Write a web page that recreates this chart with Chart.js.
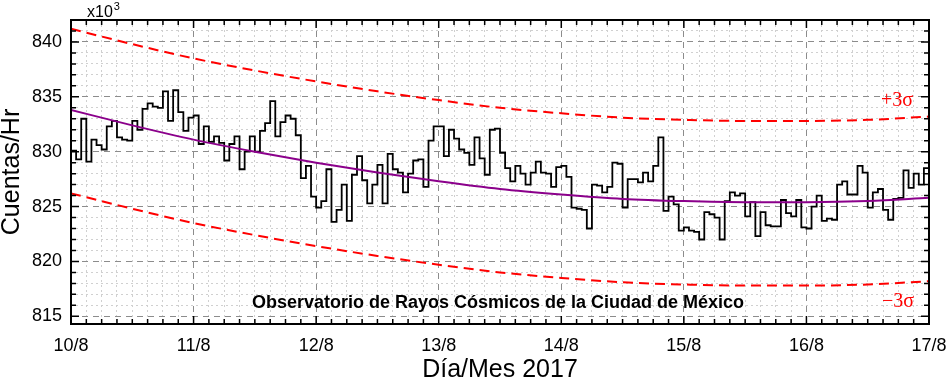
<!DOCTYPE html>
<html>
<head>
<meta charset="utf-8">
<script src="https://cdn.jsdelivr.net/npm/chart.js@4.4.1/dist/chart.umd.min.js"></script>
<style>
  html, body { margin: 0; padding: 0; background: #fff; }
  #wrap { width: 948px; height: 388px; }
</style>
</head>
<body>
<div id="wrap"><canvas id="chart"></canvas></div>
<script>
// day labels on the x axis (one per 24 h)
const dayLabels = ['10/8', '11/8', '12/8', '13/8', '14/8', '15/8', '16/8', '17/8'];

// hourly counts (x10^3), one row per day
const day10 = [830.1, 829.3, 833.0, 829.1, 831.1, 830.6, 830.2, 832.3, 832.8, 831.3, 831.1, 831.0, 832.8, 832.0, 833.9, 834.4, 834.1, 834.0, 835.5, 832.8, 835.6, 833.6, 831.9, 833.1];
const day11 = [833.3, 830.7, 832.3, 830.9, 831.4, 830.8, 829.2, 830.7, 831.4, 828.4, 830.0, 831.4, 830.0, 831.9, 832.6, 834.6, 831.4, 832.7, 833.3, 833.0, 831.5, 827.6, 828.7, 825.9];
const day12 = [824.9, 825.5, 828.4, 823.6, 824.7, 827.0, 823.7, 827.9, 829.6, 827.4, 825.3, 827.0, 828.8, 825.3, 829.8, 828.4, 828.1, 826.3, 828.0, 829.2, 829.3, 826.8, 831.0, 832.3];
const day13 = [832.3, 829.6, 832.0, 831.2, 830.2, 829.9, 828.8, 831.3, 829.4, 827.9, 832.0, 832.1, 829.9, 828.5, 827.3, 828.7, 828.0, 827.0, 828.1, 829.1, 828.1, 828.0, 826.8, 828.6];
const day14 = [828.7, 827.7, 824.9, 824.8, 824.7, 823.0, 827.0, 826.9, 826.3, 826.8, 829.0, 828.9, 824.9, 827.5, 827.5, 827.2, 828.1, 827.3, 828.7, 831.3, 824.6, 825.9, 825.2, 822.8];
const day15 = [823.1, 822.8, 822.7, 822.0, 824.5, 824.3, 824.0, 822.0, 825.5, 826.3, 826.0, 826.2, 824.1, 825.4, 822.3, 824.5, 823.3, 823.2, 823.2, 825.6, 824.4, 824.1, 825.6, 823.1];
const day16 = [823.0, 825.0, 826.0, 823.7, 823.9, 823.8, 827.0, 827.3, 826.1, 826.1, 828.7, 828.1, 824.9, 826.3, 826.6, 824.7, 823.8, 825.7, 825.8, 828.3, 826.7, 828.0, 827.0, 828.5];

// fit curve and +/-3 sigma bands, read every 12 h
const fitHours = [0, 12, 24, 36, 48, 60, 72, 84, 96, 108, 120, 132, 144, 156, 168];
const fitValues = [833.8, 832.4, 831.1, 830.0, 829.0, 828.1, 827.3, 826.6, 826.1, 825.7, 825.5, 825.4, 825.4, 825.5, 825.8];
const upperValues = [841.2, 839.8, 838.5, 837.4, 836.4, 835.5, 834.7, 834.0, 833.5, 833.1, 832.9, 832.8, 832.8, 832.9, 833.2];
const lowerValues = [826.2, 824.8, 823.5, 822.4, 821.4, 820.5, 819.7, 819.0, 818.5, 818.1, 817.9, 817.8, 817.8, 817.9, 818.2];

const counts = [].concat(day10, day11, day12, day13, day14, day15, day16);
const stepPoints = counts.map((v, i) => ({x: i, y: v}));
stepPoints.push({x: counts.length, y: counts[counts.length - 1]});

const curve = (vals) => fitHours.map((h, i) => ({x: h, y: vals[i]}));

const FONT = "'Liberation Sans', Arial, sans-serif";

// frame, inward ticks and the text placed inside the plot
const framePlugin = {
    id: 'frame',
    afterDraw(chart) {
        const {ctx, chartArea: a, scales: {x, y}} = chart;
        ctx.save();
        ctx.strokeStyle = '#000';
        ctx.lineWidth = 1.5;
        ctx.beginPath();
        for (let h = 0; h <= 168; h += 3) {
            const px = x.getPixelForValue(h);
            const len = h % 24 === 0 ? 8 : 5;
            ctx.moveTo(px, a.bottom); ctx.lineTo(px, a.bottom - len);
            ctx.moveTo(px, a.top); ctx.lineTo(px, a.top + len);
        }
        for (let v = 815; v <= 842; v++) {
            const py = y.getPixelForValue(v);
            const len = v % 5 === 0 ? 8 : 5;
            ctx.moveTo(a.left, py); ctx.lineTo(a.left + len, py);
            ctx.moveTo(a.right, py); ctx.lineTo(a.right - len, py);
        }
        ctx.stroke();
        ctx.lineWidth = 2;
        ctx.strokeRect(a.left, a.top, a.right - a.left, a.bottom - a.top);

        ctx.fillStyle = '#000';
        ctx.textBaseline = 'alphabetic';
        ctx.textAlign = 'left';
        ctx.font = '16px ' + FONT;
        const w = ctx.measureText('x10').width;
        ctx.fillText('x10', a.left + 16, a.top - 3);
        ctx.font = '11px ' + FONT;
        ctx.fillText('3', a.left + 17 + w, a.top - 10);

        ctx.textAlign = 'center';
        ctx.font = 'bold 18px ' + FONT;
        ctx.fillText('Observatorio de Rayos Cósmicos de la Ciudad de México', 498, 308);

        ctx.fillStyle = '#ff0000';
        ctx.font = "20px 'Liberation Serif', 'Times New Roman', serif";
        ctx.fillText('+3σ', 897, 106);
        ctx.fillText('\u22123σ', 898, 307);
        ctx.restore();
    }
};

const ctx = document.getElementById('chart');

new Chart(ctx, {
    type: 'line',
    data: {
        datasets: [
            {
                label: 'ajuste',
                data: curve(fitValues),
                borderColor: '#8b008b',
                borderWidth: 2,
                pointRadius: 0,
                cubicInterpolationMode: 'monotone'
            },
            {
                label: 'cuentas',
                data: stepPoints,
                borderColor: '#000',
                borderWidth: 1.8,
                pointRadius: 0,
                stepped: 'before'
            },
            {
                label: '+3s',
                data: curve(upperValues),
                borderColor: '#ff0000',
                borderWidth: 2,
                borderDash: [10, 6],
                pointRadius: 0,
                cubicInterpolationMode: 'monotone'
            },
            {
                label: '-3s',
                data: curve(lowerValues),
                borderColor: '#ff0000',
                borderWidth: 2,
                borderDash: [10, 6],
                pointRadius: 0,
                cubicInterpolationMode: 'monotone'
            }
        ]
    },
    options: {
        responsive: true,
        maintainAspectRatio: false,
        animation: false,
        layout: {
            padding: {top: 20, right: 19, left: 0, bottom: 0}
        },
        plugins: {
            legend: {display: false},
            tooltip: {enabled: false}
        },
        scales: {
            x: {
                type: 'linear',
                min: 0,
                max: 168,
                afterFit: (s) => { s.height = 64; s.paddingLeft = 0; s.paddingRight = 0; },
                ticks: {
                    stepSize: 3,
                    autoSkip: false,
                    maxRotation: 0,
                    padding: 11,
                    color: '#000',
                    font: {family: FONT, size: 18},
                    callback: (v) => (v % 24 === 0 ? dayLabels[v / 24] : '')
                },
                grid: {
                    drawTicks: false,
                    lineWidth: 1,
                    color: (c) => (c.tick && c.tick.value % 24 === 0 ? '#8c8c8c' : '#d0d0d0')
                },
                border: {
                    display: false,
                    dash: (c) => (c.tick && c.tick.value % 24 === 0 ? [6, 5] : [2, 3])
                },
                title: {
                    display: true,
                    text: 'Día/Mes 2017',
                    color: '#000',
                    font: {family: FONT, size: 25, lineHeight: 1},
                    padding: {top: 0, bottom: 5}
                }
            },
            y: {
                min: 814.3,
                max: 842,
                afterFit: (s) => { s.width = 71; s.paddingTop = 0; s.paddingBottom = 0; },
                ticks: {
                    stepSize: 1,
                    autoSkip: false,
                    includeBounds: false,
                    padding: 9,
                    color: '#000',
                    font: {family: FONT, size: 18},
                    callback: (v) => (v % 5 === 0 ? String(v) : '')
                },
                grid: {
                    drawTicks: false,
                    lineWidth: 1,
                    color: (c) => (c.tick && c.tick.value % 5 === 0 ? '#8c8c8c' : '#d0d0d0')
                },
                border: {
                    display: false,
                    dash: (c) => (c.tick && c.tick.value % 5 === 0 ? [6, 5] : [2, 3])
                },
                title: {
                    display: true,
                    text: 'Cuentas/Hr',
                    color: '#000',
                    font: {family: FONT, size: 25, lineHeight: 1},
                    padding: {top: 0, bottom: 0}
                }
            }
        }
    },
    plugins: [framePlugin]
});
</script>
</body>
</html>
